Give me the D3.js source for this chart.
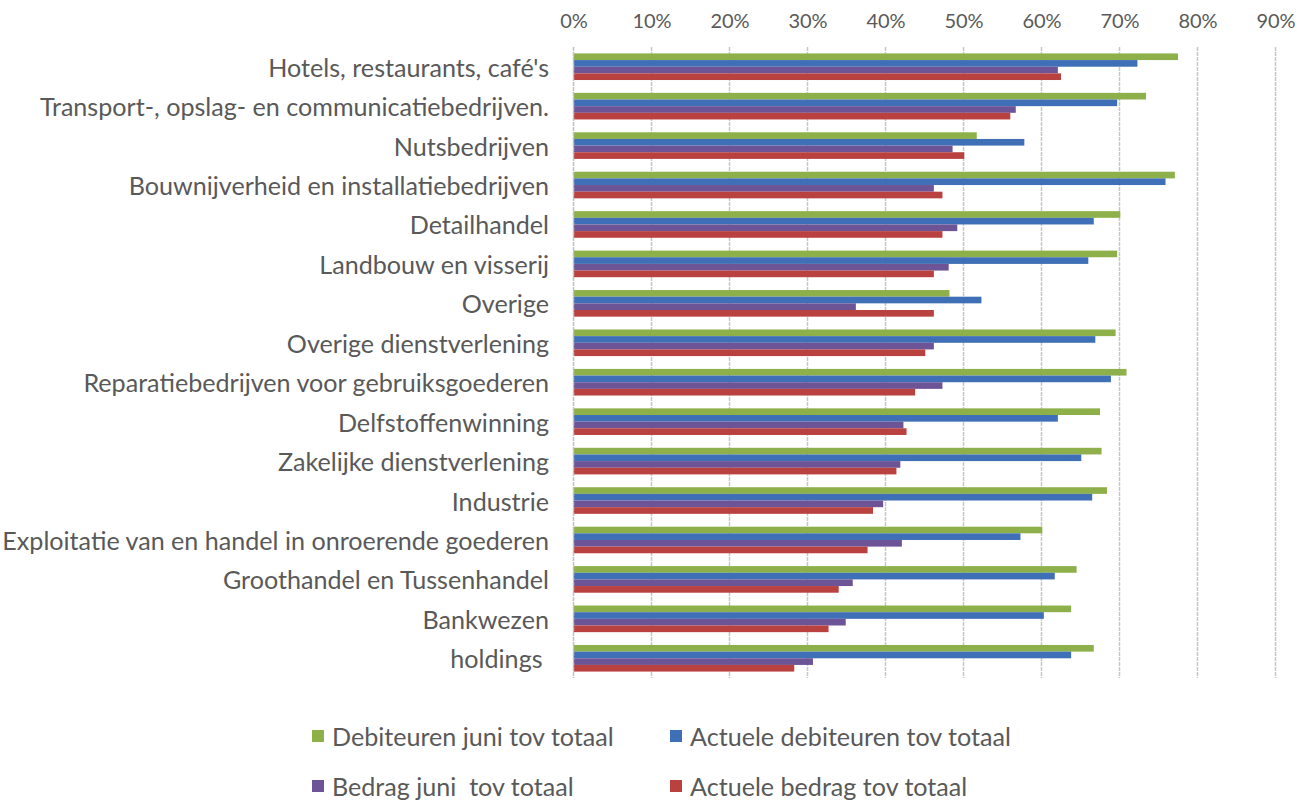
<!DOCTYPE html>
<html>
<head>
<meta charset="utf-8">
<script src="https://cdn.jsdelivr.net/npm/d3@7"></script>
<style>
  html, body { margin: 0; padding: 0; background: #fff; }
  svg { display: block; }
  text { font-family: Lato, "Open Sans", sans-serif; fill: #595959; white-space: pre; }
</style>
</head>
<body>
<svg id="chart" width="1299" height="804"></svg>
<script>
const categories = [
  "Hotels, restaurants, café's",
  "Transport-, opslag- en communicatiebedrijven.",
  "Nutsbedrijven",
  "Bouwnijverheid en installatiebedrijven",
  "Detailhandel",
  "Landbouw en visserij",
  "Overige",
  "Overige dienstverlening",
  "Reparatiebedrijven voor gebruiksgoederen",
  "Delfstoffenwinning",
  "Zakelijke dienstverlening",
  "Industrie",
  "Exploitatie van en handel in onroerende goederen",
  "Groothandel en Tussenhandel",
  "Bankwezen",
  "holdings "
];
const seriesNames = [
  "Debiteuren juni tov totaal",
  "Actuele debiteuren tov totaal",
  "Bedrag juni  tov totaal",
  "Actuele bedrag tov totaal"
];
const debiteurenJuni   = [0.775, 0.734, 0.517, 0.771, 0.701, 0.697, 0.482, 0.695, 0.709, 0.675, 0.677, 0.684, 0.601, 0.645, 0.638, 0.667];
const actueleDebiteuren = [0.723, 0.697, 0.578, 0.759, 0.667, 0.660, 0.523, 0.669, 0.689, 0.621, 0.651, 0.665, 0.573, 0.617, 0.603, 0.638];
const bedragJuni       = [0.621, 0.567, 0.486, 0.462, 0.492, 0.481, 0.362, 0.462, 0.473, 0.423, 0.419, 0.397, 0.421, 0.358, 0.349, 0.307];
const actueleBedrag    = [0.625, 0.560, 0.501, 0.473, 0.473, 0.462, 0.462, 0.451, 0.438, 0.427, 0.414, 0.384, 0.377, 0.340, 0.327, 0.283];
const seriesValues = [debiteurenJuni, actueleDebiteuren, bedragJuni, actueleBedrag];
const seriesColors = ["#8db04b", "#3f6fb6", "#6d5496", "#b9413f"];
const tickValues = [0, 0.1, 0.2, 0.3, 0.4, 0.5, 0.6, 0.7, 0.8, 0.9];

const svg = d3.select("#chart");
const plotTop = 47, plotBottom = 678, x0 = 573.5, x90 = 1275.5;

const x = d3.scaleLinear().domain([0, 0.9]).range([x0, x90]);
const y = d3.scaleBand().domain(categories).range([plotTop, plotBottom]).padding(0);
const step = y.bandwidth();
const groupH = 26.6;
const ySub = d3.scaleBand().domain(d3.range(seriesNames.length))
  .range([(step - groupH) / 2, (step + groupH) / 2]).padding(0);

// gridlines
svg.append("g").selectAll("line").data(tickValues.slice(1)).join("line")
  .attr("x1", d => x(d)).attr("x2", d => x(d))
  .attr("y1", plotTop).attr("y2", plotBottom)
  .attr("stroke", "#c6c6c6").attr("stroke-width", 1.5)
  .attr("stroke-dasharray", "4,1");

// top axis labels
const axis = d3.axisTop(x).tickValues(tickValues).tickFormat(d3.format(".0%")).tickSize(0).tickPadding(0);
const axG = svg.append("g").attr("transform", `translate(0, 28)`).call(axis);
axG.select(".domain").remove();
axG.selectAll("text").attr("font-size", 20).style("font-family", "Lato, sans-serif").attr("fill", "#595959").attr("dy", 0);

// bars
const groups = svg.append("g").selectAll("g").data(categories).join("g")
  .attr("transform", d => `translate(0, ${y(d)})`);
groups.selectAll("rect").data((d, i) => seriesValues.map((vals, s) => ({ s, v: vals[i] })))
  .join("rect")
  .attr("x", x(0))
  .attr("y", d => ySub(d.s))
  .attr("width", d => x(d.v) - x(0))
  .attr("height", ySub.bandwidth())
  .attr("fill", d => seriesColors[d.s]);

// vertical axis line
svg.append("line").attr("x1", x(0)).attr("x2", x(0)).attr("y1", plotTop).attr("y2", plotBottom)
  .attr("stroke", "#c0c0c0").attr("stroke-width", 1.5).attr("stroke-dasharray", "4,1");

// category labels
const labelG = svg.append("g");
const labels = labelG.selectAll("text").data(categories).join("text")
  .attr("x", 549)
  .attr("y", d => y(d) + step / 2)
  .attr("text-anchor", "end")
  .attr("dominant-baseline", "central")
  .attr("font-size", 20)
  .text(d => d);
// fit font size so longest label width matches the reference
const longest = labels.filter(d => d.startsWith("Exploitatie")).node();
const w = longest.getComputedTextLength();
const fs = 20 * 547 / w;
labels.attr("font-size", fs);

// legend
const legendItems = [
  { s: 0, x: 312, y: 736 },
  { s: 1, x: 670, y: 736 },
  { s: 2, x: 312, y: 786 },
  { s: 3, x: 670, y: 786 }
];
const lg = svg.append("g").selectAll("g").data(legendItems).join("g")
  .attr("transform", d => `translate(${d.x}, ${d.y})`);
lg.append("rect").attr("x", 0).attr("y", -6).attr("width", 12).attr("height", 12)
  .attr("fill", d => seriesColors[d.s]);
lg.append("text").attr("x", 20).attr("y", 0).attr("dominant-baseline", "central")
  .attr("xml:space", "preserve")
  .attr("font-size", fs).text(d => seriesNames[d.s]);
</script>
</body>
</html>
